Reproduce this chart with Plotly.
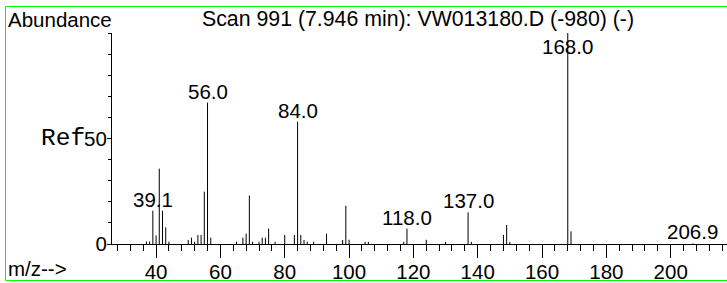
import plotly.graph_objects as go

# ---- data ----
mz = [37, 38, 39, 40, 41, 42, 43, 44, 50, 51, 52, 53, 54, 55, 56, 57,
      65, 67, 68, 69, 70, 72, 73, 74, 75, 77, 80, 83, 84, 85, 86, 87, 89,
      93, 98, 99, 100, 105, 106, 117, 118, 124, 130, 137, 138, 148, 149,
      150, 168, 169, 206.9]
abundance = [1.2, 1.2, 15.8, 4.1, 35.7, 15.8, 7.9, 1.1, 1.9, 3.0, 1.1, 4.3,
             4.3, 24.8, 67.0, 3.0, 1.1, 3.0, 4.9, 23.0, 1.1, 1.1, 3.0, 3.0,
             7.3, 1.1, 4.3, 4.3, 58.0, 4.3, 1.9, 1.1, 1.1, 4.9, 1.9, 18.1,
             2.0, 1.0, 1.0, 1.0, 7.3, 2.0, 1.0, 15.0, 1.0, 4.3, 9.0, 1.0,
             100.0, 6.0, 0.3]
label_mz = [39.1, 56.0, 84.0, 118.0, 137.0, 168.0, 206.9]
label_bar = [39, 56, 84, 118, 137, 168, 206.9]
y_ticks = [0, 50]
y_tick_text = ["0", "50"]
title_text = "Scan 991 (7.946 min): VW013180.D (-980) (-)"

# ---- layout geometry (pixels) ----
W, H = 727, 283
L, R, T, B = 112, 0, 33, 39
PW, PH = W - L - R, H - T - B
X_RANGE = [26.3, 217.5]
LABEL_CAP = 88.0
FONT = "Liberation Sans, Arial, Helvetica, sans-serif"
FS = 20.5


def px2x(px):
    return (px - L) / PW


def py2y(py):
    return (H - B - py) / PH


# stick spectrum built from the arrays
xs, ys = [], []
for m, a in zip(mz, abundance):
    xs += [m, m, None]
    ys += [0, a, None]

fig = go.Figure()
fig.add_trace(go.Scatter(x=xs, y=ys, mode="lines",
                         line=dict(color="black", width=1),
                         hoverinfo="skip", showlegend=False))

height_of = dict(zip(mz, abundance))
annotations = []
for lab, bar in zip(label_mz, label_bar):
    yv = min(height_of[bar], LABEL_CAP)
    annotations.append(dict(x=lab, y=yv, xref="x", yref="y",
                            text=f"{lab:.1f}", showarrow=False,
                            xanchor="center", yanchor="bottom", yshift=-2,
                            font=dict(family=FONT, size=FS, color="black")))

annotations += [
    dict(x=px2x(6), y=py2y(19.2), xref="paper", yref="paper",
         text="Abundance", showarrow=False, xanchor="left", yanchor="middle",
         font=dict(family=FONT, size=FS, color="black")),
    dict(x=px2x(417.5), y=py2y(19.2), xref="paper", yref="paper",
         text=title_text, showarrow=False, xanchor="center", yanchor="middle",
         font=dict(family=FONT, size=21.3, color="black")),
    dict(x=px2x(6), y=py2y(268.5), xref="paper", yref="paper",
         text="m/z-->", showarrow=False, xanchor="left", yanchor="middle",
         font=dict(family=FONT, size=FS, color="black")),
    dict(x=px2x(87), y=py2y(138), xref="paper", yref="paper",
         text="Ref", showarrow=False, xanchor="right", yanchor="middle",
         font=dict(family="Liberation Mono, Courier New, monospace",
                   size=24.5, color="black")),
]

shapes = [dict(type="rect", xref="paper", yref="paper",
               x0=px2x(5.5), x1=px2x(735), y0=py2y(280.5), y1=py2y(6.5),
               line=dict(color="#00ff00", width=1), layer="below")]

fig.update_layout(
    width=W, height=H,
    margin=dict(l=L, r=R, t=T, b=B, pad=0),
    paper_bgcolor="white", plot_bgcolor="white",
    showlegend=False, hovermode=False,
    annotations=annotations, shapes=shapes,
    xaxis=dict(range=X_RANGE, showgrid=False, zeroline=False,
               showline=True, linecolor="black", linewidth=1,
               ticks="outside", ticklen=13, tickwidth=1, tickcolor="black",
               tick0=0, dtick=20, ticklabelstandoff=-4,
               tickfont=dict(family=FONT, size=FS, color="black"),
               minor=dict(ticks="outside", ticklen=6, tickwidth=1,
                          tickcolor="black", dtick=4, tick0=0,
                          showgrid=False)),
    yaxis=dict(range=[0, 100], showgrid=False, zeroline=False,
               showline=True, linecolor="black", linewidth=1,
               ticks="outside", ticklen=4, tickwidth=1, tickcolor="black",
               tickvals=y_ticks, ticktext=y_tick_text, ticklabelstandoff=-4,
               tickfont=dict(family=FONT, size=FS, color="black"),
               minor=dict(ticks="outside", ticklen=3, tickwidth=1,
                          tickcolor="black", dtick=10, tick0=0,
                          showgrid=False)),
)

fig.write_html(
    "out.html",
    config={"displayModeBar": False},
    post_script="document.body.style.margin='0';"
                "document.body.style.overflow='hidden';",
)
